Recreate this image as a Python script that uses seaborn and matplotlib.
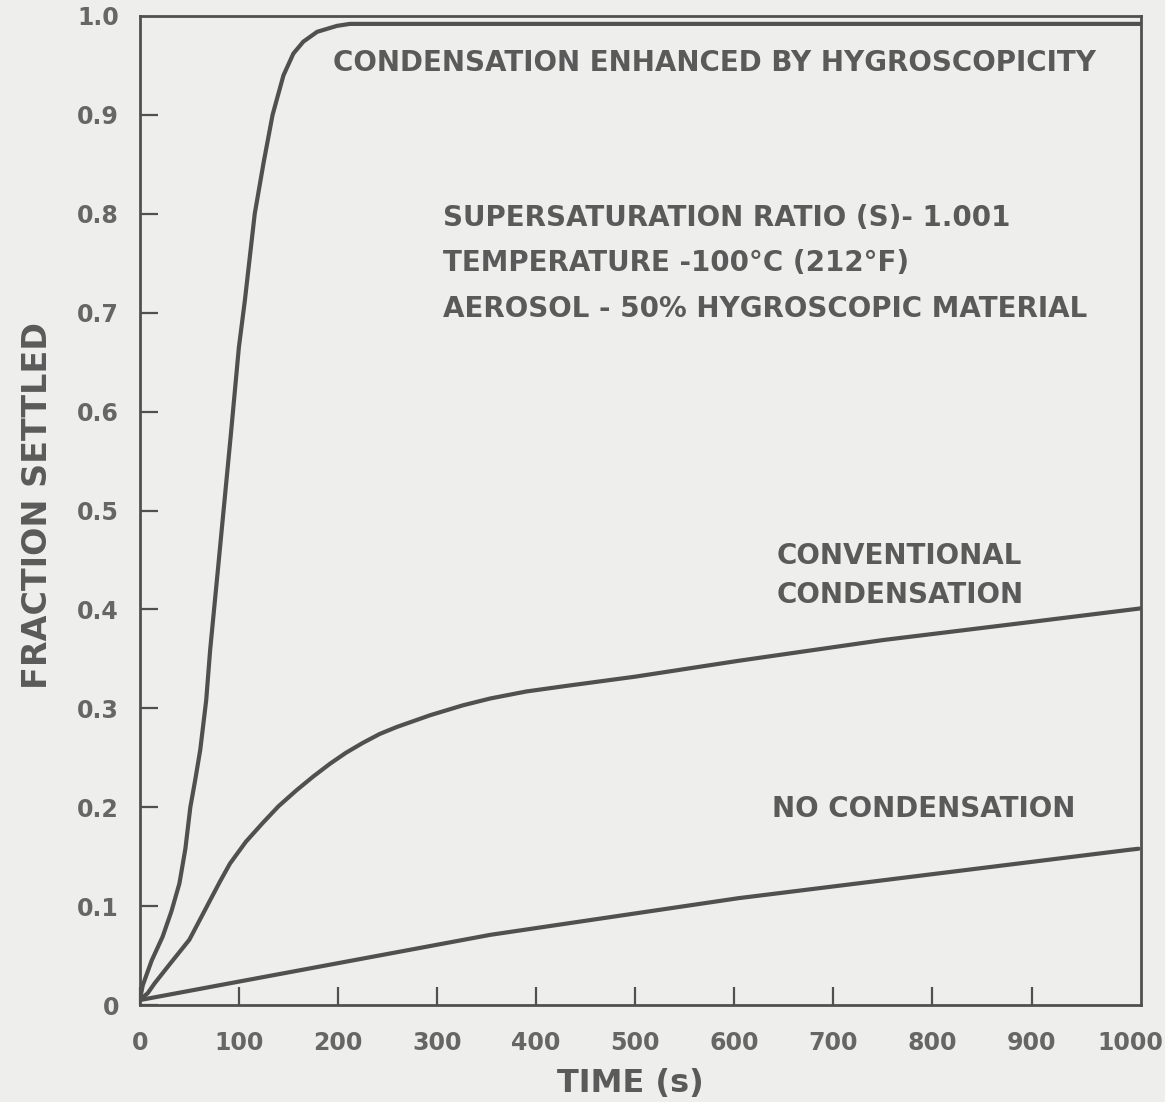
import matplotlib
matplotlib.use("Agg")
import matplotlib.pyplot as plt
import seaborn as sns
import pandas as pd

# ---- data ----
time_hygro = [0, 3, 12, 23, 32, 40, 46, 51, 56, 61, 67, 71, 79, 92, 100, 106, 116, 125, 134, 145, 155, 165, 179, 199, 212, 400, 700, 1010]
frac_hygro = [0.005, 0.02, 0.045, 0.069, 0.095, 0.123, 0.158, 0.2, 0.228, 0.258, 0.308, 0.359, 0.442, 0.578, 0.665, 0.712, 0.8, 0.852,
              0.9, 0.94, 0.962, 0.974, 0.984, 0.99, 0.992, 0.992, 0.992, 0.992]

time_conv = [0, 8, 15, 30, 50, 60, 71, 81, 91, 107, 124, 140, 158, 175, 192, 208, 225, 242, 259, 276, 293, 326, 354, 390, 433, 500, 604, 750, 897, 1010]
frac_conv = [0.005, 0.012, 0.022, 0.041, 0.066, 0.085, 0.106, 0.125, 0.143, 0.165, 0.184, 0.201, 0.217, 0.231, 0.244, 0.255, 0.265,
             0.274, 0.281, 0.287, 0.293, 0.303, 0.310, 0.317, 0.323, 0.332, 0.348, 0.369, 0.387, 0.401]

time_none = [0, 91, 354, 604, 999, 1008]
frac_none = [0.005, 0.022, 0.071, 0.108, 0.157, 0.158]

x_ticks = [0, 100, 200, 300, 400, 500, 600, 700, 800, 900, 1000]
x_tick_labels = ["0", "100", "200", "300", "400", "500", "600", "700", "800", "900", "1000"]
y_ticks = [0, 0.1, 0.2, 0.3, 0.4, 0.5, 0.6, 0.7, 0.8, 0.9, 1.0]
y_tick_labels = ["0", "0.1", "0.2", "0.3", "0.4", "0.5", "0.6", "0.7", "0.8", "0.9", "1.0"]

labels_text = ["CONDENSATION ENHANCED BY HYGROSCOPICITY",
               "SUPERSATURATION RATIO (S)- 1.001",
               "TEMPERATURE -100\u00b0C (212\u00b0F)",
               "AEROSOL - 50% HYGROSCOPIC MATERIAL",
               "CONVENTIONAL",
               "CONDENSATION",
               "NO CONDENSATION"]
labels_x = [195, 306, 306, 306, 643, 643, 638]
labels_y = [0.952, 0.796, 0.750, 0.704, 0.4535, 0.415, 0.198]

# ---- style ----
sns.set_style("ticks")
plt.rcParams['font.family'] = ['DejaVu Sans']
BG = "#eeeeec"
LINE = "#505050"
TXT = "#5a5a5a"
TICKTXT = "#666666"

fig = plt.figure(figsize=(11.65, 11.02), dpi=100, facecolor=BG)
ax = fig.add_axes([0.120, 0.088, 0.859, 0.8975])
ax.set_facecolor(BG)

df = pd.concat([
    pd.DataFrame({"time": time_hygro, "frac": frac_hygro, "series": "hygro"}),
    pd.DataFrame({"time": time_conv, "frac": frac_conv, "series": "conv"}),
    pd.DataFrame({"time": time_none, "frac": frac_none, "series": "none"}),
])
sns.lineplot(data=df, x="time", y="frac", hue="series", sort=False,
             palette={"hygro": LINE, "conv": LINE, "none": LINE},
             linewidth=3.0, legend=False, ax=ax)

ax.set_xlim(0, 1010)
ax.set_ylim(0, 1.0)
ax.set_xticks(x_ticks)
ax.set_xticklabels(x_tick_labels)
ax.set_yticks(y_ticks)
ax.set_yticklabels(y_tick_labels)

for s in ax.spines.values():
    s.set_visible(True)
    s.set_color(LINE)
    s.set_linewidth(2.0)

ax.tick_params(axis="x", direction="in", length=13, width=1.6, color=LINE,
               labelsize=17, labelcolor=TICKTXT, pad=19)
ax.tick_params(axis="y", direction="in", length=13, width=1.6, color=LINE,
               labelsize=17, labelcolor=TICKTXT, pad=15)
for lbl in ax.get_xticklabels() + ax.get_yticklabels():
    lbl.set_fontweight("bold")
ax.xaxis.get_major_ticks()[-1].tick1line.set_visible(False)
ax.yaxis.get_major_ticks()[-1].tick1line.set_visible(False)

ax.set_xlabel("TIME (s)", fontsize=23, color=TXT, fontweight="bold")
ax.set_ylabel("FRACTION SETTLED", fontsize=24, color=TXT, fontweight="bold")
ax.xaxis.set_label_coords(0.49, -0.064)
ax.yaxis.set_label_coords(-0.086, 0.505)

for t, x, y in zip(labels_text, labels_x, labels_y):
    ax.text(x, y, t, fontsize=20, color=TXT, ha="left", va="center", fontweight="bold")

fig.savefig("out.png", dpi=100, facecolor=BG)
